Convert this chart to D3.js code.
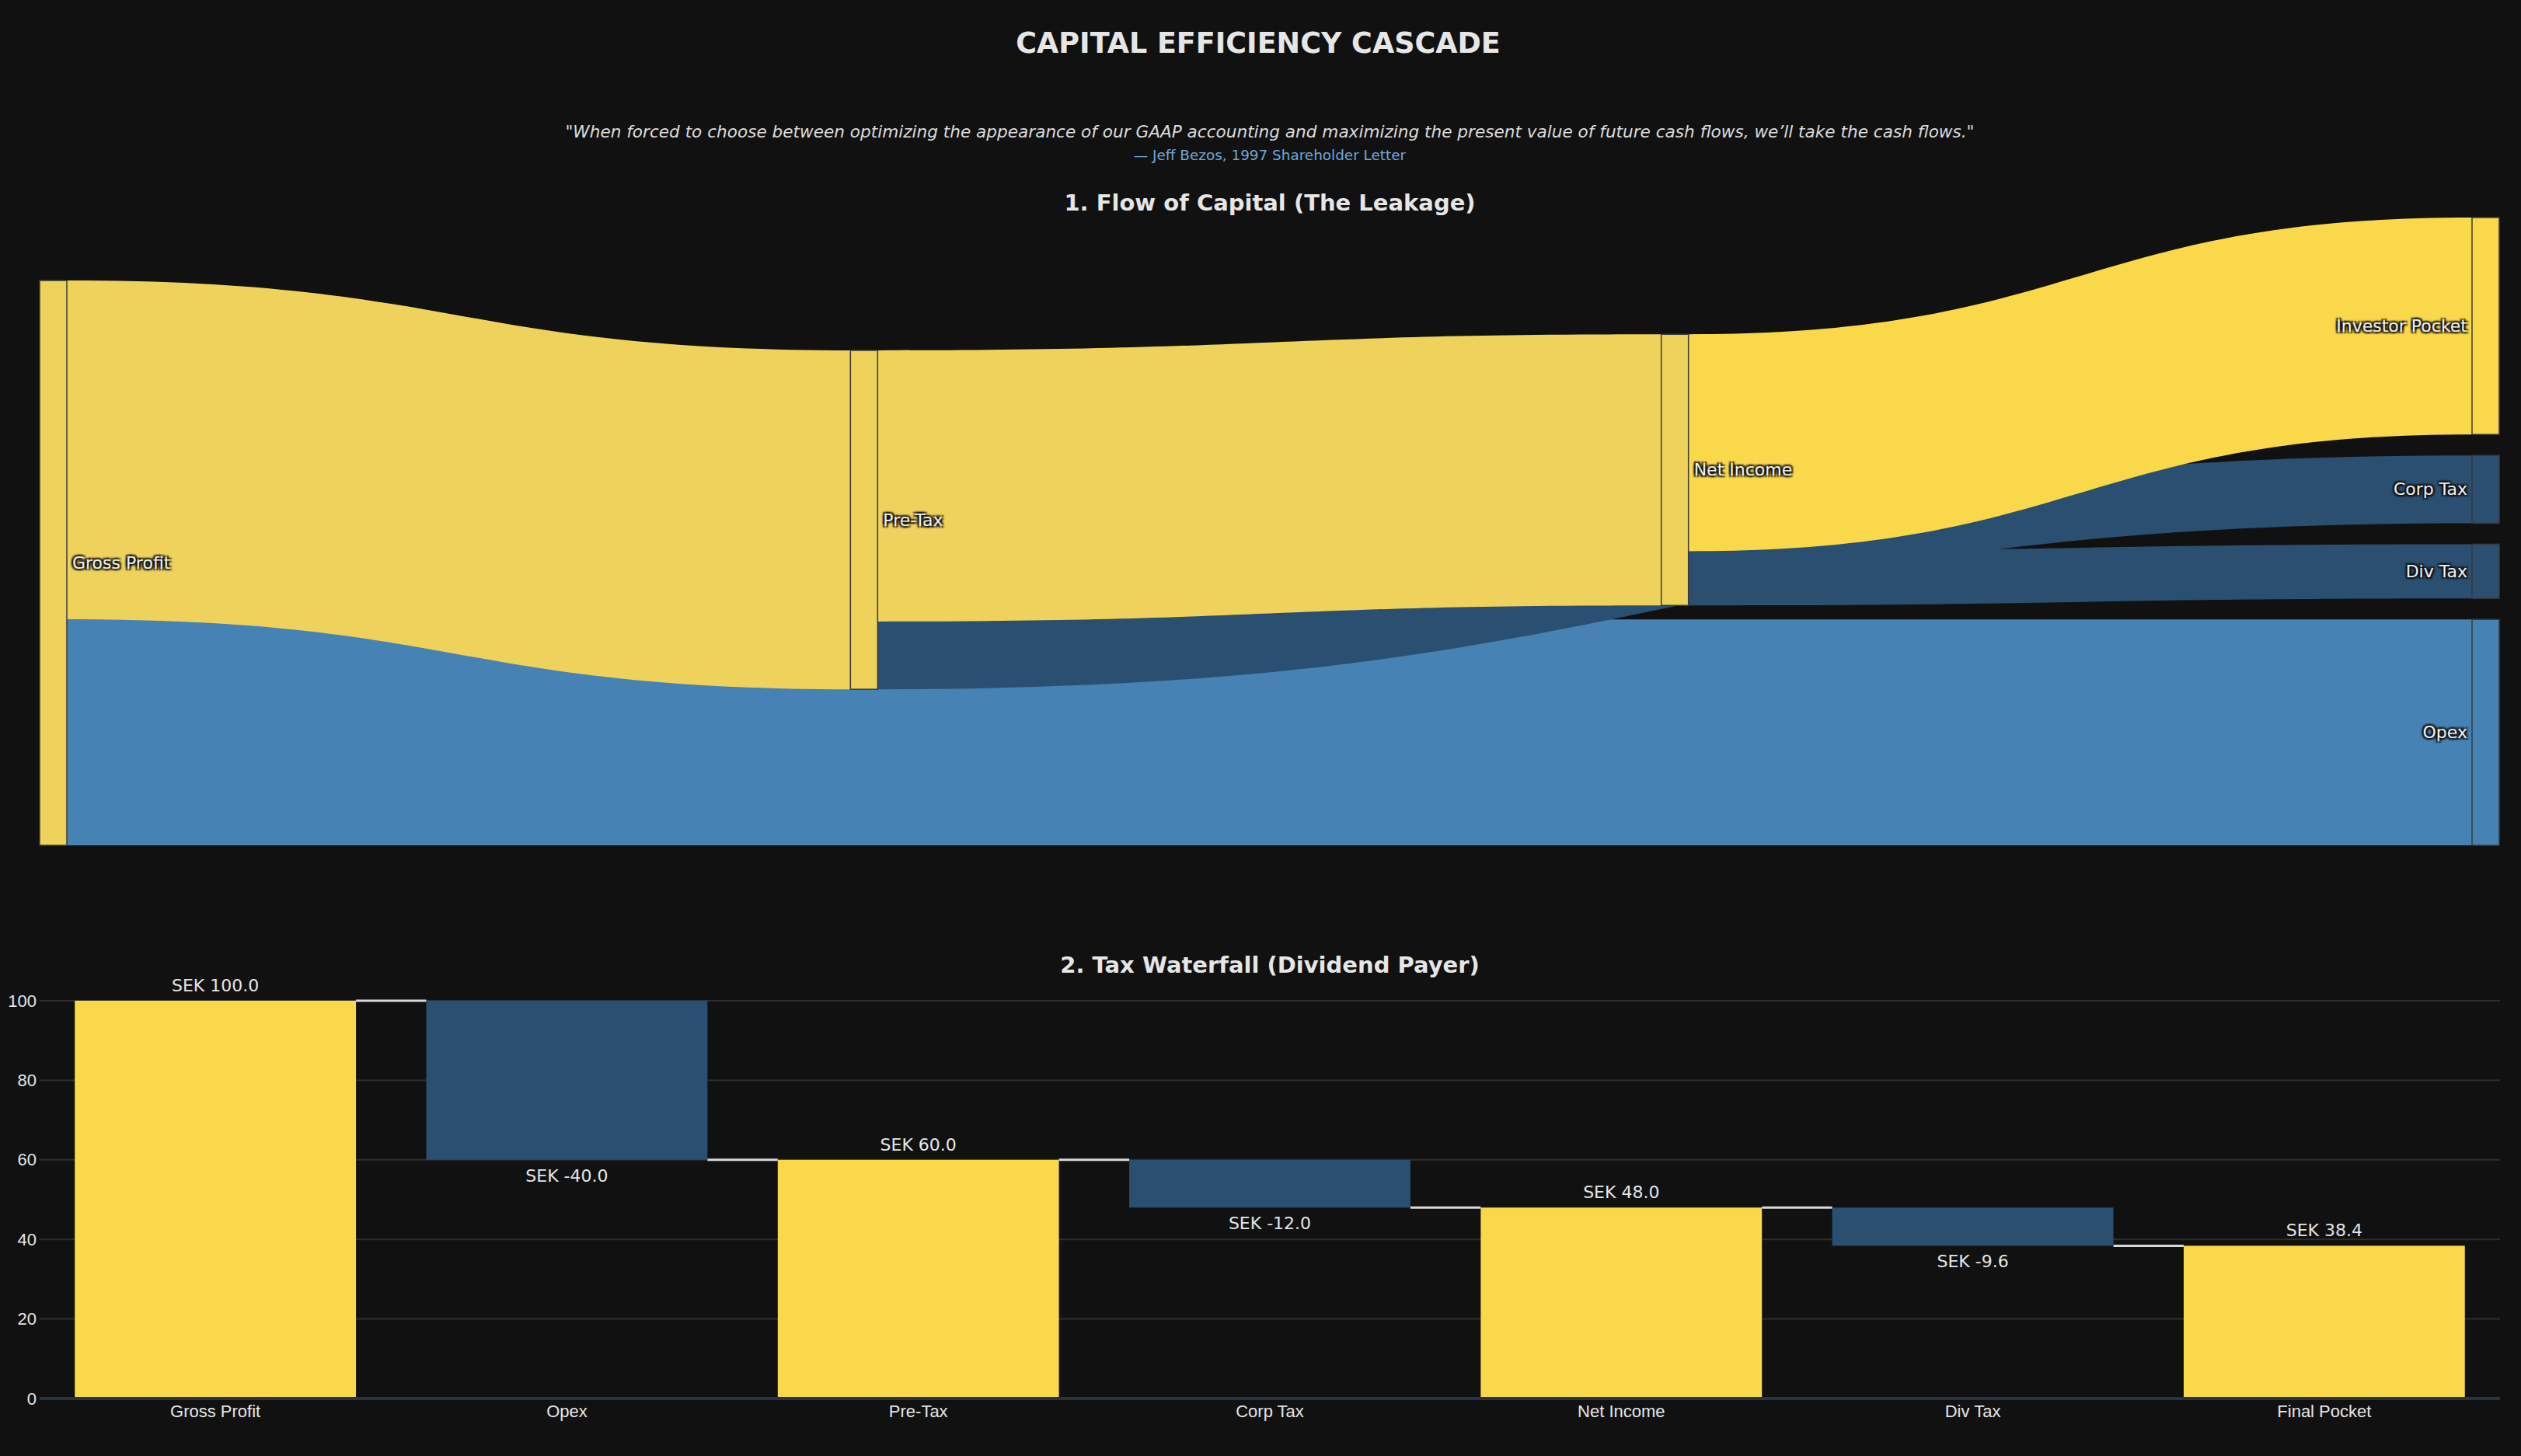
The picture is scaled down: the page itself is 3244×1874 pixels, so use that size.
<!DOCTYPE html>
<html>
<head>
  <meta charset="utf-8">
  <script src="https://d3js.org/d3.v7.min.js"></script>
  <style>
    body { margin: 0; background: #111111; }
    svg { display: block; font-family: "DejaVu Sans", Verdana, sans-serif; }
    .main-title { font-size: 36.5px; font-weight: bold; fill: #e6e6e6; }
    .quote { font-size: 21.6px; font-style: italic; fill: #dcdcdc; }
    .attrib { font-size: 18.4px; fill: #6fa8dc; }
    .sub-title { font-size: 29px; font-weight: bold; fill: #e6e6e6; }
    .node-label {
      font-size: 22px; fill: #f0f0f0;
      text-shadow: 2px 2px 2px #111, -2px -2px 2px #111, 2px -2px 2px #111, -2px 2px 2px #111;
    }
    .tick text { font-size: 22px; fill: #e6e6e6; }
    .bar-label { font-size: 22px; fill: #e6e6e6; }
  </style>
</head>
<body>
  <div id="chart"></div>
  <script>
    // ---- data ----
    const nodeNames = ["Gross Profit", "Pre-Tax", "Net Income", "Investor Pocket", "Corp Tax", "Div Tax", "Opex"];
    const linkSource = ["Gross Profit", "Gross Profit", "Pre-Tax", "Pre-Tax", "Net Income", "Net Income"];
    const linkTarget = ["Opex", "Pre-Tax", "Corp Tax", "Net Income", "Div Tax", "Investor Pocket"];
    const linkValue = [40, 60, 12, 48, 9.6, 38.4];

    const stepLabels = ["Gross Profit", "Opex", "Pre-Tax", "Corp Tax", "Net Income", "Div Tax", "Final Pocket"];
    const stepMeasure = ["absolute", "relative", "total", "relative", "total", "relative", "total"];
    const stepValue = [100, -40, 0, -12, 0, -9.6, 0];
    const yTicks = [0, 20, 40, 60, 80, 100];

    // ---- colours ----
    const gold = "#eed25c", brightGold = "#f9d84a", navy = "#2a4f70", steel = "#4682b4";
    const nodeColor = {
      "Gross Profit": gold, "Pre-Tax": gold, "Net Income": gold,
      "Investor Pocket": brightGold, "Corp Tax": navy, "Div Tax": navy, "Opex": steel
    };
    const linkColor = {
      "Opex": steel, "Pre-Tax": gold, "Corp Tax": navy,
      "Net Income": gold, "Div Tax": navy, "Investor Pocket": brightGold
    };

    const W = 3244, H = 1874;
    const plotLeft = 51, plotRight = 3217, midX = (plotLeft + plotRight) / 2;

    const svg = d3.select("#chart").append("svg")
      .attr("width", W).attr("height", H);

    svg.append("rect").attr("width", W).attr("height", H).attr("fill", "#111111");

    // titles
    svg.append("text").attr("class", "main-title")
      .attr("x", W / 2 - 3).attr("y", 68).attr("text-anchor", "middle")
      .text("CAPITAL EFFICIENCY CASCADE");
    svg.append("text").attr("class", "quote")
      .attr("x", midX).attr("y", 177).attr("text-anchor", "middle")
      .text("\"When forced to choose between optimizing the appearance of our GAAP accounting and maximizing the present value of future cash flows, we\u2019ll take the cash flows.\"");
    svg.append("text").attr("class", "attrib")
      .attr("x", midX).attr("y", 206).attr("text-anchor", "middle")
      .text("\u2014 Jeff Bezos, 1997 Shareholder Letter");
    svg.append("text").attr("class", "sub-title")
      .attr("x", midX).attr("y", 271).attr("text-anchor", "middle")
      .text("1. Flow of Capital (The Leakage)");
    svg.append("text").attr("class", "sub-title")
      .attr("x", midX).attr("y", 1252).attr("text-anchor", "middle")
      .text("2. Tax Waterfall (Dividend Payer)");

    // ---- sankey layout (relaxation, node order kept as given) ----
    function sankeyLayout(x0, y0, x1, y1, nodeWidth, pad, iterations) {
      const nodes = nodeNames.map(name => ({ name, sourceLinks: [], targetLinks: [] }));
      const byName = new Map(nodes.map(n => [n.name, n]));
      const links = linkValue.map((value, i) => {
        const l = { source: byName.get(linkSource[i]), target: byName.get(linkTarget[i]), value };
        l.source.sourceLinks.push(l);
        l.target.targetLinks.push(l);
        return l;
      });
      nodes.forEach(n => {
        n.value = Math.max(d3.sum(n.sourceLinks, l => l.value), d3.sum(n.targetLinks, l => l.value));
      });

      // depths, sinks pushed to the last column
      let current = nodes.filter(n => !n.targetLinks.length), depth = 0;
      while (current.length) {
        const next = new Set();
        current.forEach(n => { n.depth = depth; n.sourceLinks.forEach(l => next.add(l.target)); });
        current = Array.from(next);
        depth++;
      }
      const maxDepth = depth - 1;
      nodes.forEach(n => { if (!n.sourceLinks.length) n.depth = maxDepth; });
      const kx = (x1 - x0 - nodeWidth) / maxDepth;
      nodes.forEach(n => { n.x0 = x0 + n.depth * kx; n.x1 = n.x0 + nodeWidth; });

      const columns = d3.groups(nodes, n => n.depth).sort((a, b) => a[0] - b[0]).map(d => d[1]);
      const ky = d3.min(columns, c => (y1 - y0 - (c.length - 1) * pad) / d3.sum(c, n => n.value));
      columns.forEach(c => c.forEach((n, i) => { n.y0 = y0 + i; n.y1 = n.y0 + n.value * ky; }));
      links.forEach(l => { l.width = l.value * ky; });

      const center = n => (n.y0 + n.y1) / 2;
      function resolve() {
        columns.forEach(c => {
          let y = y0;
          for (const n of c) {
            const dy = y - n.y0;
            if (dy > 0) { n.y0 += dy; n.y1 += dy; }
            y = n.y1 + pad;
          }
          let dy = y - pad - y1;
          if (dy > 0) {
            const last = c[c.length - 1];
            last.y0 -= dy; last.y1 -= dy; y = last.y0;
            for (let i = c.length - 2; i >= 0; --i) {
              const m = c[i];
              dy = m.y1 + pad - y;
              if (dy > 0) { m.y0 -= dy; m.y1 -= dy; }
              y = m.y0;
            }
          }
        });
      }
      function relaxLeftToRight(alpha) {
        columns.forEach(c => c.forEach(n => {
          if (!n.targetLinks.length) return;
          const dy = (d3.sum(n.targetLinks, l => center(l.source) * l.value) / d3.sum(n.targetLinks, l => l.value) - center(n)) * alpha;
          n.y0 += dy; n.y1 += dy;
        }));
      }
      function relaxRightToLeft(alpha) {
        columns.slice().reverse().forEach(c => c.forEach(n => {
          if (!n.sourceLinks.length) return;
          const dy = (d3.sum(n.sourceLinks, l => center(l.target) * l.value) / d3.sum(n.sourceLinks, l => l.value) - center(n)) * alpha;
          n.y0 += dy; n.y1 += dy;
        }));
      }

      resolve();
      let alpha = 1;
      for (let k = iterations; k > 0; --k) {
        relaxRightToLeft(alpha *= 0.99); resolve();
        relaxLeftToRight(alpha); resolve();
      }

      nodes.forEach(n => {
        n.sourceLinks.sort((a, b) => a.target.y0 - b.target.y0);
        n.targetLinks.sort((a, b) => a.source.y0 - b.source.y0);
      });
      nodes.forEach(n => {
        let ys = n.y0, yt = n.y0;
        n.sourceLinks.forEach(l => { l.sy0 = ys; ys += l.width; l.sy1 = ys; });
        n.targetLinks.forEach(l => { l.ty0 = yt; yt += l.width; l.ty1 = yt; });
      });
      return { nodes, links, maxDepth };
    }

    const sk = sankeyLayout(plotLeft, 280, 3216, 1088, 35, 27, 75);

    function ribbon(l) {
      const xa = l.source.x1, xb = l.target.x0, xm = (xa + xb) / 2;
      return `M${xa},${l.sy0}C${xm},${l.sy0} ${xm},${l.ty0} ${xb},${l.ty0}` +
        `L${xb},${l.ty1}C${xm},${l.ty1} ${xm},${l.sy1} ${xa},${l.sy1}Z`;
    }

    const gSankey = svg.append("g");
    gSankey.append("g").selectAll("path")
      .data(sk.links).join("path")
      .attr("d", ribbon)
      .attr("fill", d => linkColor[d.target.name]);

    gSankey.append("g").selectAll("rect")
      .data(sk.nodes).join("rect")
      .attr("x", d => d.x0).attr("y", d => d.y0)
      .attr("width", d => d.x1 - d.x0).attr("height", d => d.y1 - d.y0)
      .attr("fill", d => nodeColor[d.name])
      .attr("stroke", "#3a3a3a").attr("stroke-width", 1.5);

    gSankey.append("g").selectAll("text")
      .data(sk.nodes).join("text")
      .attr("class", "node-label")
      .attr("x", d => d.depth === sk.maxDepth ? d.x0 - 6 : d.x1 + 7)
      .attr("y", d => (d.y0 + d.y1) / 2)
      .attr("dy", "0.35em")
      .attr("text-anchor", d => d.depth === sk.maxDepth ? "end" : "start")
      .text(d => d.name);

    // ---- waterfall ----
    let running = 0;
    const steps = stepLabels.map((label, i) => {
      let start, end;
      if (stepMeasure[i] === "absolute") { start = 0; end = stepValue[i]; }
      else if (stepMeasure[i] === "relative") { start = running; end = running + stepValue[i]; }
      else { start = 0; end = running; }
      running = end;
      return { label, start, end, delta: stepMeasure[i] === "relative" ? stepValue[i] : end, measure: stepMeasure[i] };
    });

    const x = d3.scaleBand().domain(stepLabels).range([plotLeft, plotRight])
      .paddingInner(0.2).paddingOuter(0.1);
    const y = d3.scaleLinear().domain([0, 100]).range([1800, 1288]);

    const gWf = svg.append("g");

    // grid
    gWf.append("g").selectAll("line")
      .data(yTicks.filter(t => t !== 0)).join("line")
      .attr("x1", plotLeft).attr("x2", plotRight)
      .attr("y1", d => y(d)).attr("y2", d => y(d))
      .attr("stroke", "#2e2e2e").attr("stroke-width", 2);

    // y axis labels
    const yAxis = gWf.append("g")
      .attr("transform", `translate(${plotLeft},0)`)
      .call(d3.axisLeft(y).tickValues(yTicks).tickSize(0).tickPadding(4));
    yAxis.select(".domain").remove();

    // connectors
    gWf.append("g").selectAll("line")
      .data(steps.slice(0, -1)).join("line")
      .attr("x1", d => x(d.label) + x.bandwidth())
      .attr("x2", (d, i) => x(steps[i + 1].label))
      .attr("y1", d => y(d.end)).attr("y2", d => y(d.end))
      .attr("stroke", "#d9d9d9").attr("stroke-width", 3);

    // bars
    gWf.append("g").selectAll("rect")
      .data(steps).join("rect")
      .attr("x", d => x(d.label))
      .attr("width", x.bandwidth())
      .attr("y", d => y(Math.max(d.start, d.end)))
      .attr("height", d => Math.abs(y(d.start) - y(d.end)))
      .attr("fill", d => d.measure === "relative" ? navy : brightGold);

    // zero line
    gWf.append("line")
      .attr("x1", plotLeft).attr("x2", plotRight)
      .attr("y1", y(0)).attr("y2", y(0))
      .attr("stroke", "#283442").attr("stroke-width", 4);

    // x axis labels
    const xAxis = gWf.append("g")
      .attr("transform", `translate(0,${y(0)})`)
      .call(d3.axisBottom(x).tickSize(0).tickPadding(8));
    xAxis.select(".domain").remove();

    // bar value labels
    gWf.append("g").selectAll("text")
      .data(steps).join("text")
      .attr("class", "bar-label")
      .attr("x", d => x(d.label) + x.bandwidth() / 2)
      .attr("y", d => d.delta < 0 ? y(Math.min(d.start, d.end)) + 28 : y(Math.max(d.start, d.end)) - 12)
      .attr("text-anchor", "middle")
      .text(d => "SEK " + d.delta.toFixed(1));

    svg.selectAll(".tick text").attr("font-family", null).attr("font-size", null);
  </script>
</body>
</html>
